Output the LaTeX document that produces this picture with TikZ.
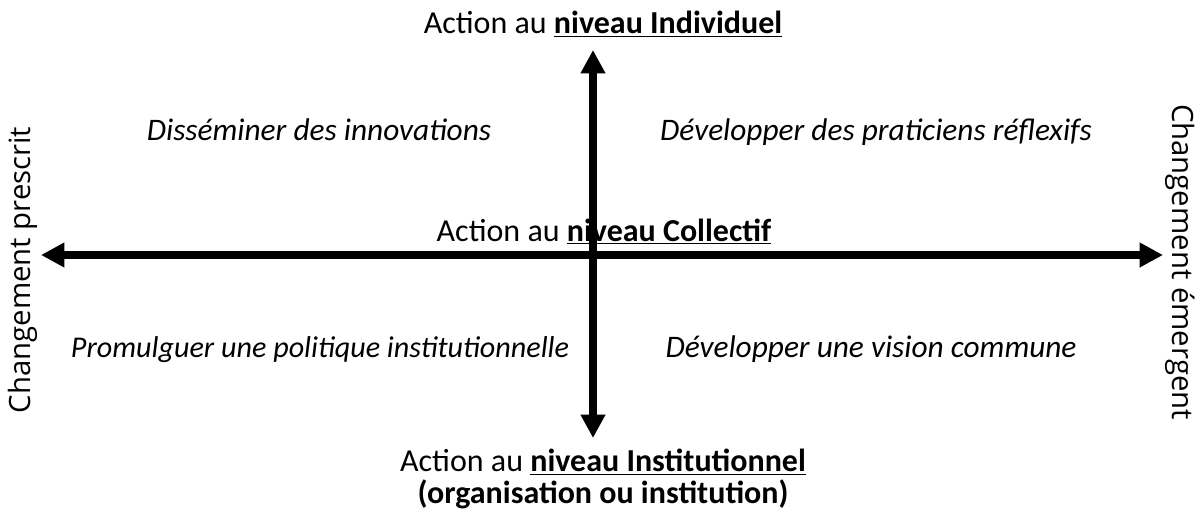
\documentclass[tikz,border=0pt]{standalone}
\usepackage{fontspec}
\setmainfont{Carlito}
\newfontfamily\sidefont{Open Sans}
\usetikzlibrary{positioning,arrows.meta}
\tikzset{
  lvl/.style={inner sep=1pt,font=\fontsize{24}{24}\selectfont,align=center},
  quad/.style={inner sep=1pt,anchor=base,font=\fontsize{23.5}{26}\selectfont\itshape},
  side/.style={inner sep=1pt,font=\sidefont\fontsize{22}{26}\selectfont},
  axis/.style={-{Triangle[length=17.5pt,width=17.5pt]},line width=5.8pt}
}
\newcommand{\lvlb}[1]{\underline{\textbf{#1}}}
\begin{document}
\begin{tikzpicture}[x=0.75pt,y=-0.75pt]
\useasboundingbox (0,0) rectangle (1203,510);
\node[lvl,anchor=base] (ind) at (603,34) {Action au \lvlb{niveau Individuel}};
\node[lvl,anchor=base] (col) at (604,241) {Action au \lvlb{niveau Collectif}};
\node[lvl,anchor=south] (inst) at (603,511) {Action au \lvlb{niveau Institutionnel}\\\textbf{(organisation ou institution)}};
\node[quad] (dis) at (319,140) {Disséminer des innovations};
\node[quad] (prat) at (876,140) {Développer des praticiens réflexifs};
\node[quad,font=\fontsize{22.6}{26}\selectfont\itshape] (prom) at (320,357) {Promulguer une politique institutionnelle};
\node[quad] (vis) at (871,357) {Développer une vision commune};
\node[side,rotate=90] (pres) at (23,270) {Changement prescrit};
\node[side,rotate=-90] (emer) at (1180,262) {Changement émergent};
\coordinate (c) at (593,255);
\coordinate (top) at (593,50);
\coordinate (bot) at (593,438);
\coordinate (lft) at (41,255);
\coordinate (rgt) at (1163,255);
\draw[axis] (c)--(top); \draw[axis] (c)--(bot);
\draw[axis] (c)--(lft); \draw[axis] (c)--(rgt);
\end{tikzpicture}
\end{document}
